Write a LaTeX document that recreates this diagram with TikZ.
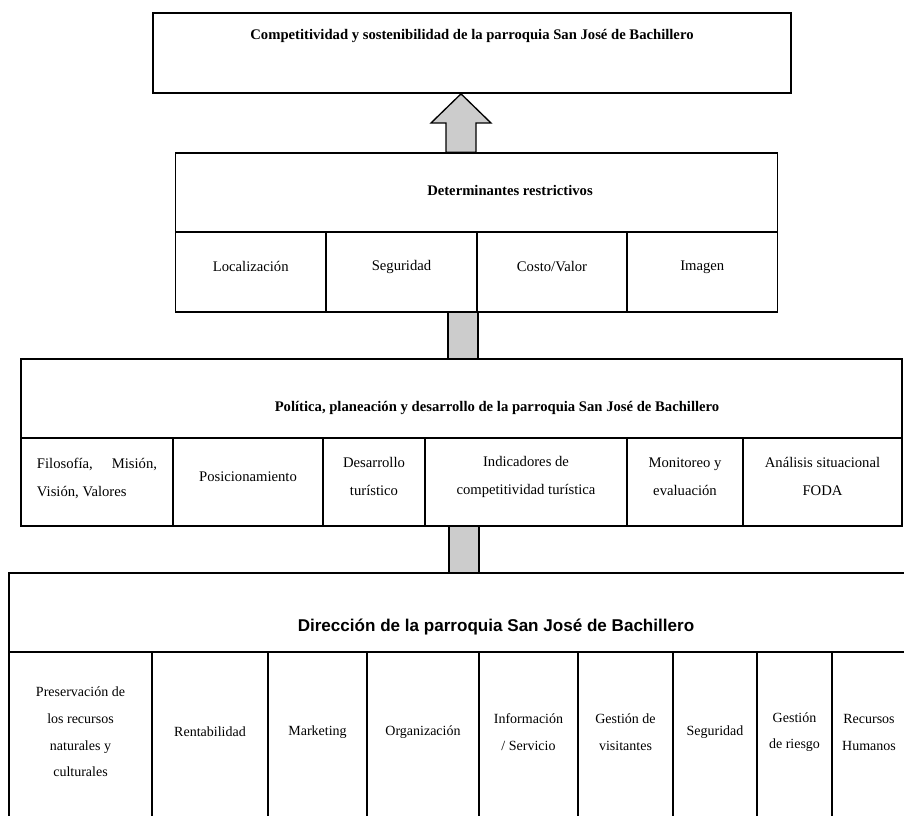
\documentclass[tikz,border=0pt]{standalone}
\usepackage{fontspec}
\setmainfont{Liberation Serif}
\newfontfamily\sanstitle{Liberation Sans}
\usetikzlibrary{fit}

\begin{document}
\begin{tikzpicture}[x=0.75pt, y=-0.75pt, box/.style={draw, line width=1pt, inner sep=0pt}, cell/.style={box, font=\fontsize{11}{21}\selectfont, align=center}, low cell/.style={box, font=\fontsize{10.5}{20}\selectfont, align=center}, title/.style={font=\bfseries\fontsize{11}{13}\selectfont}, bar/.style={draw, line width=1pt, fill=gray!40}]
\useasboundingbox (0,0) rectangle (904,816);
\clip (0,0) rectangle (904,816);
% top box
\node[box, line width=1.3pt, fit={(153,13) (791,93)}] (top) {};
\node[title] (toptitle) at (472,36) {Competitividad y sostenibilidad de la parroquia San José de Bachillero};
% determinantes
\node[box, fit={(175.5,153) (777.5,232)}] (det) {};
\node[title] (dettitle) at (510,190) {Determinantes restrictivos};
\node[cell, fit={(175.5,232) (326,312)}] (det1) {Localización};
\node[cell, fit={(326,232) (477,312)}] (det2) {Seguridad};
\node[cell, fit={(477,232) (627,312)}] (det3) {Costo/Valor};
\node[cell, fit={(627,232) (777.5,312)}] (det4) {Imagen};
% politica
\node[box, fit={(21,359) (902,438)}] (pol) {};
\node[title] (poltitle) at (497,408) {Política, planeación y desarrollo de la parroquia San José de Bachillero};
\node[box, font=\fontsize{11}{21}\selectfont, fit={(21,438) (173,526)}] (pol1) {\raisebox{0pt}[0pt][0pt]{\parbox{90pt}{Filosofía, Misión, Visión, Valores}}};
\node[cell, fit={(173,438) (323,526)}] (pol2) {Posicionamiento};
\node[cell, fit={(323,438) (425,526)}] (pol3) {Desarrollo\\turístico};
\node[cell, fit={(425,438) (627,526)}] (pol4) {Indicadores de\\competitividad turística};
\node[cell, fit={(627,438) (743,526)}] (pol5) {Monitoreo y\\evaluación};
\node[cell, fit={(743,438) (902,526)}] (pol6) {Análisis situacional\\FODA};
% direccion
\node[box, fit={(9,573) (906,652)}] (dir) {};
\node[font=\sanstitle\bfseries\fontsize{12.8}{15}\selectfont] (dirtitle) at (496,627) {Dirección de la parroquia San José de Bachillero};
\node[low cell, fit={(9,652) (152,822)}] (dir1) {Preservación de\\los recursos\\naturales y\\culturales};
\node[low cell, fit={(152,652) (268,822)}] (dir2) {Rentabilidad};
\node[low cell, fit={(268,652) (367,822)}] (dir3) {Marketing};
\node[low cell, fit={(367,652) (479,822)}] (dir4) {Organización};
\node[low cell, fit={(479,652) (578,822)}] (dir5) {Información\\/ Servicio};
\node[low cell, fit={(578,652) (673,822)}] (dir6) {Gestión de\\visitantes};
\node[low cell, fit={(673,652) (757,822)}] (dir7) {Seguridad};
\node[low cell, fit={(757,652) (832,822)}] (dir8) {Gestión\\de riesgo};
\node[low cell, fit={(832,652) (906,822)}] (dir9) {Recursos\\Humanos};
% block arrow and bars
\draw[bar] (det.north -| 446,0) -- (446,123) -- (431,123) -- (top.south -| 461,0) -- (491,123) -- (476,123) -- (det.north -| 476,0) -- cycle;
\draw[bar] (det1.south -| 448,0) rectangle (pol.north -| 478,0);
\draw[bar] (pol4.south -| 449,0) rectangle (dir.north -| 479,0);
\end{tikzpicture}
\end{document}
